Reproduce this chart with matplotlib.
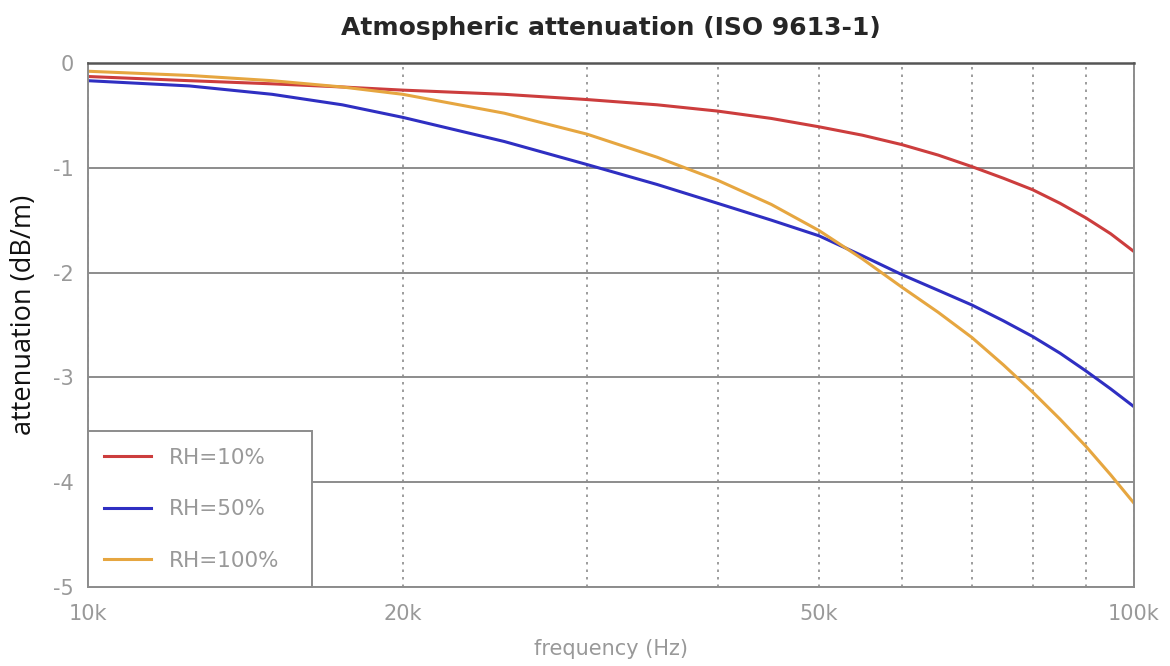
import matplotlib
matplotlib.use('Agg')
import matplotlib.pyplot as plt
from matplotlib.ticker import FixedLocator, NullFormatter

# values (frequency in Hz, attenuation in dB/m)
freq = [10000, 12500, 15000, 17500, 20000, 25000, 30000, 35000, 40000, 45000,
        50000, 55000, 60000, 65000, 70000, 75000, 80000, 85000, 90000, 95000, 100000]
rh10 = [-0.13, -0.17, -0.20, -0.23, -0.26, -0.30, -0.35, -0.40, -0.46, -0.53,
        -0.61, -0.69, -0.78, -0.88, -0.99, -1.10, -1.21, -1.34, -1.48, -1.63, -1.80]
rh50 = [-0.17, -0.22, -0.30, -0.40, -0.52, -0.75, -0.97, -1.16, -1.34, -1.50,
        -1.65, -1.84, -2.02, -2.17, -2.31, -2.46, -2.61, -2.77, -2.94, -3.11, -3.28]
rh100 = [-0.08, -0.12, -0.17, -0.23, -0.30, -0.48, -0.68, -0.90, -1.12, -1.35,
         -1.60, -1.87, -2.14, -2.38, -2.62, -2.88, -3.14, -3.40, -3.66, -3.93, -4.20]

labels = ['RH=10%', 'RH=50%', 'RH=100%']
colors = ['#cc3d3d', '#2f2fc2', '#e6a640']

x_ticks = [10000, 20000, 50000, 100000]
x_ticklabels = ['10k', '20k', '50k', '100k']
x_minor = [30000, 40000, 60000, 70000, 80000, 90000]
y_ticks = [0, -1, -2, -3, -4, -5]

grey = '#8c8c8c'
text_grey = '#999999'

fig = plt.figure(figsize=(11.7, 6.66), dpi=100)
ax = fig.add_axes([0.0752, 0.1186, 0.894, 0.787])

for vals, lab, col in zip([rh10, rh50, rh100], labels, colors):
    ax.plot(freq, vals, color=col, linewidth=2.2, label=lab)

ax.set_xscale('log')
ax.set_xlim(10000, 100000)
ax.set_ylim(-5, 0)

ax.xaxis.set_major_locator(FixedLocator(x_ticks))
ax.set_xticklabels(x_ticklabels)
ax.xaxis.set_minor_locator(FixedLocator(x_minor))
ax.xaxis.set_minor_formatter(NullFormatter())
ax.set_yticks(y_ticks)
ax.set_yticklabels([str(v) for v in y_ticks])

# grid: solid horizontal, dotted vertical
ax.grid(axis='y', which='major', color=grey, linewidth=1.4, linestyle='-')
ax.grid(axis='x', which='both', color=grey, linewidth=1.2, linestyle=(0, (1.5, 3)))
ax.set_axisbelow(True)

for side in ['left', 'right', 'bottom']:
    ax.spines[side].set_color(grey)
    ax.spines[side].set_linewidth(1.4)
ax.spines['top'].set_color('#555555')
ax.spines['top'].set_linewidth(1.8)

ax.tick_params(axis='x', which='both', length=0, colors=text_grey, labelsize=15, pad=12)
ax.tick_params(axis='y', which='both', length=0, colors=text_grey, labelsize=15, pad=10)

ax.set_title('Atmospheric attenuation (ISO 9613-1)', fontsize=18, fontweight='bold',
             color='#262626', pad=20)
ax.set_ylabel('attenuation (dB/m)', fontsize=19.5, family='Open Sans', color='#111111')
ax.yaxis.set_label_coords(-0.048, 0.52)
ax.set_xlabel('frequency (Hz)', fontsize=15, color=text_grey, labelpad=11)

leg = ax.legend(loc='lower left', bbox_to_anchor=(0, 0, 0.214, 0.3), mode='expand',
                borderaxespad=0, fancybox=False, framealpha=1, edgecolor=grey,
                prop={'size': 15.5},
                handlelength=2.2, handletextpad=0.8, labelspacing=1.47,
                borderpad=0.75)
leg.get_frame().set_linewidth(1.4)
for t in leg.get_texts():
    t.set_color(text_grey)

fig.savefig('out.png', dpi=100, facecolor='white')
